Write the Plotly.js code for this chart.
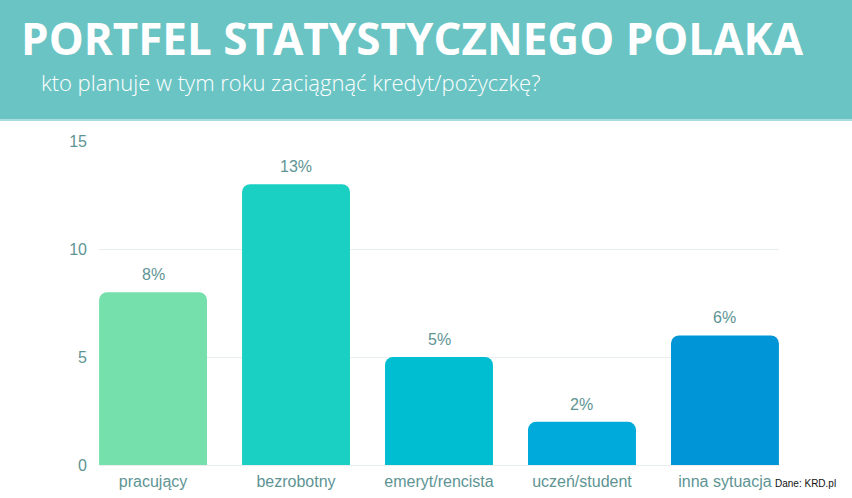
<!DOCTYPE html>
<html>
<head>
<meta charset="utf-8">
<script src="https://cdn.plot.ly/plotly-3.0.1.min.js"></script>
<style>html,body{margin:0;padding:0;background:#fff;}#chart{width:852px;height:498px;}</style>
</head>
<body>
<div id="chart"></div>
<script>
const categories = ['pracujący', 'bezrobotny', 'emeryt/rencista', 'uczeń/student', 'inna sytuacja'];
const values = [8, 13, 5, 2, 6];
const barColors = ['#76E0AD', '#1AD0C2', '#00BED2', '#00AADB', '#0095D7'];
const yTicks = [0, 5, 10, 15];
const titleText = 'PORTFEL STATYSTYCZNEGO POLAKA';
const subtitleText = 'kto planuje w tym roku zaciągnąć kredyt/pożyczkę?';
const sourceText = 'Dane: KRD.pl';

const W = 852, H = 498;
const L = 99, R = 73, T = 141, B = 33;
const pw = W - L - R, ph = H - T - B;
const px = x => (x - L) / pw;
const py = y => (H - B - y) / ph;
const textCol = '#5E9494';
const baseFont = 'Liberation Sans, Arial, sans-serif';

const trace = {
  type: 'bar',
  x: categories,
  y: values,
  width: 0.755,
  marker: {color: barColors, cornerradius: 8},
  cliponaxis: false,
  hoverinfo: 'none'
};

const labelAnnotations = categories.map((c, i) => ({
  text: values[i] + '%', xref: 'x', yref: 'y', x: c, y: values[i],
  xanchor: 'center', yanchor: 'bottom', yshift: 7, showarrow: false,
  font: {family: baseFont, size: 16, color: textCol}
}));

const layout = {
  width: W, height: H,
  margin: {l: L, r: R, t: T, b: B, pad: 0},
  paper_bgcolor: '#ffffff',
  plot_bgcolor: '#ffffff',
  showlegend: false,
  xaxis: {
    range: [-0.378, 4.378],
    showgrid: false, zeroline: false, showline: false,
    ticks: '',
    ticklabelstandoff: 5,
    tickfont: {family: baseFont, size: 16, color: textCol}
  },
  yaxis: {
    range: [0, 15],
    tickvals: yTicks,
    ticktext: yTicks.map(String),
    showgrid: true, gridcolor: '#E9EFEF', gridwidth: 1,
    zeroline: true, zerolinecolor: '#E9EFEF', zerolinewidth: 1,
    showline: false, ticks: '',
    ticklabelstandoff: 11,
    tickfont: {family: baseFont, size: 16, color: textCol}
  },
  shapes: [
    {type: 'rect', xref: 'paper', yref: 'paper', x0: px(0), x1: px(W), y0: py(119), y1: py(0), fillcolor: '#6AC4C4', line: {width: 0}, layer: 'below'},
    {type: 'rect', xref: 'paper', yref: 'paper', x0: px(0), x1: px(W), y0: py(121), y1: py(119), fillcolor: '#A8DEDE', line: {width: 0}, layer: 'below'}
  ],
  annotations: [
    {text: '<b>' + titleText + '</b>', xref: 'paper', yref: 'paper', x: px(20), y: py(38), xanchor: 'left', yanchor: 'middle', showarrow: false, borderpad: 0,
     font: {family: 'Open Sans, sans-serif', size: 44, color: '#ffffff', weight: 800}},
    {text: subtitleText, xref: 'paper', yref: 'paper', x: px(40), y: py(82), xanchor: 'left', yanchor: 'middle', showarrow: false, borderpad: 0,
     font: {family: 'Open Sans, sans-serif', size: 22, color: '#ffffff', weight: 300}},
    {text: sourceText, xref: 'paper', yref: 'paper', x: px(773), y: py(483), xanchor: 'left', yanchor: 'middle', showarrow: false,
     font: {family: baseFont, size: 10, color: '#111111'}}
  ].concat(labelAnnotations)
};

Plotly.newPlot('chart', [trace], layout, {staticPlot: true, displayModeBar: false});
</script>
</body>
</html>
